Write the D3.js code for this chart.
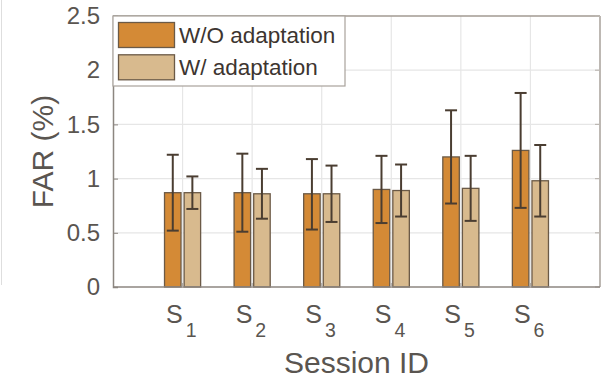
<!doctype html>
<html lang="en">
  <head>
    <meta charset="utf-8">
    <title>FAR per session</title>
    <style>
      body { margin: 0; background: #fff; }
      svg text { font-family: "Liberation Sans", Arial, sans-serif; }
    </style>
  </head>
  <body>
    <div id="main-chart"></div>

    <script src="https://d3js.org/d3.v7.min.js"></script>
    <script>
      // Data
      var sessions = ["1", "2", "3", "4", "5", "6"];
      var seriesNames = ["W/O adaptation", "W/ adaptation"];
      var withoutMean = [0.87, 0.87, 0.86, 0.90, 1.20, 1.26];
      var withoutLow  = [0.52, 0.51, 0.53, 0.59, 0.77, 0.73];
      var withoutHigh = [1.22, 1.23, 1.18, 1.21, 1.63, 1.79];
      var withMean = [0.87, 0.86, 0.86, 0.89, 0.91, 0.98];
      var withLow  = [0.72, 0.63, 0.60, 0.65, 0.61, 0.65];
      var withHigh = [1.02, 1.09, 1.12, 1.13, 1.21, 1.31];
      var yTicks = [0, 0.5, 1, 1.5, 2, 2.5];

      var colors = ["#d48a36", "#d8ba8e"];

      // Set params
      var margin = {top: 16, right: 8, bottom: 94, left: 113},
          width = 608 - margin.left - margin.right,
          height = 381 - margin.top - margin.bottom;

      var svg = d3.select("#main-chart")
        .append("svg")
        .attr("width", 608)
        .attr("height", 381);

      // faint frame line at far left
      svg.append("line")
        .attr("x1", 1.5).attr("x2", 1.5)
        .attr("y1", 0).attr("y2", 285)
        .attr("stroke", "#dedede").attr("stroke-width", 1);

      var g = svg.append("g")
        .attr("transform", "translate(" + margin.left + "," + margin.top + ")");

      // X scale: categories at 1..6 on a 0..7 range
      var x = d3.scaleLinear().domain([0, 7]).range([0, width]);
      var y = d3.scaleLinear().domain([0, 2.5]).range([height, 0]);

      // Grid
      g.selectAll(".hgrid").data(yTicks.slice(1, -1)).enter()
        .append("line")
        .attr("x1", 0).attr("x2", width)
        .attr("y1", function(d) { return y(d); })
        .attr("y2", function(d) { return y(d); })
        .attr("stroke", "#e6e6e6").attr("stroke-width", 1.2);

      g.selectAll(".vgrid").data(sessions).enter()
        .append("line")
        .attr("x1", function(d, i) { return x(i + 1); })
        .attr("x2", function(d, i) { return x(i + 1); })
        .attr("y1", 0).attr("y2", height)
        .attr("stroke", "#e6e6e6").attr("stroke-width", 1.2);

      // Bars
      var barW = 16.5, off = 9.8;
      var series = [
        {mean: withoutMean, low: withoutLow, high: withoutHigh, dx: -off, color: colors[0]},
        {mean: withMean, low: withLow, high: withHigh, dx: off, color: colors[1]}
      ];

      series.forEach(function(s) {
        g.selectAll(null).data(s.mean).enter()
          .append("rect")
          .attr("x", function(d, i) { return x(i + 1) + s.dx - barW / 2; })
          .attr("y", function(d) { return y(d); })
          .attr("width", barW)
          .attr("height", function(d) { return height - y(d); })
          .attr("fill", s.color)
          .attr("stroke", "#6b5a47")
          .attr("stroke-width", 1.3);
      });

      // Error bars
      var capW = 6;
      series.forEach(function(s) {
        var eb = g.selectAll(null).data(s.mean).enter().append("g")
          .attr("stroke", "#4a3d31").attr("stroke-width", 2);
        eb.append("line")
          .attr("x1", function(d, i) { return x(i + 1) + s.dx; })
          .attr("x2", function(d, i) { return x(i + 1) + s.dx; })
          .attr("y1", function(d, i) { return y(s.low[i]); })
          .attr("y2", function(d, i) { return y(s.high[i]); });
        eb.append("line")
          .attr("x1", function(d, i) { return x(i + 1) + s.dx - capW; })
          .attr("x2", function(d, i) { return x(i + 1) + s.dx + capW; })
          .attr("y1", function(d, i) { return y(s.high[i]); })
          .attr("y2", function(d, i) { return y(s.high[i]); });
        eb.append("line")
          .attr("x1", function(d, i) { return x(i + 1) + s.dx - capW; })
          .attr("x2", function(d, i) { return x(i + 1) + s.dx + capW; })
          .attr("y1", function(d, i) { return y(s.low[i]); })
          .attr("y2", function(d, i) { return y(s.low[i]); });
      });

      // Box: top and right
      g.append("line").attr("x1", 0).attr("x2", width).attr("y1", 0).attr("y2", 0)
        .attr("stroke", "#a29a92").attr("stroke-width", 1.5);
      g.append("line").attr("x1", width).attr("x2", width).attr("y1", 0).attr("y2", height)
        .attr("stroke", "#bdb8b3").attr("stroke-width", 2);

      // Right-side inner ticks
      g.selectAll(".rtick").data(yTicks).enter()
        .append("line")
        .attr("x1", width - 5).attr("x2", width)
        .attr("y1", function(d) { return y(d); })
        .attr("y2", function(d) { return y(d); })
        .attr("stroke", "#bdb8b3").attr("stroke-width", 1.2);

      // Y axis
      var yAxis = g.append("g")
        .call(d3.axisLeft(y).tickValues(yTicks).tickSize(-5).tickPadding(13)
          .tickFormat(function(d) { return d3.format("")(d); }));
      yAxis.select(".domain").attr("stroke", "#8c8680").attr("stroke-width", 1.5);
      yAxis.selectAll(".tick line").attr("stroke", "#8c8680");
      yAxis.selectAll("text")
        .attr("font-size", "24px")
        .attr("fill", "#5a5550")
        .attr("font-family", "Liberation Sans, Arial, sans-serif");

      // X axis line and small ticks
      g.append("line").attr("x1", 0).attr("x2", width).attr("y1", height).attr("y2", height)
        .attr("stroke", "#8c8680").attr("stroke-width", 1.5);
      g.selectAll(".xtick").data(sessions).enter()
        .append("line")
        .attr("x1", function(d, i) { return x(i + 1); })
        .attr("x2", function(d, i) { return x(i + 1); })
        .attr("y1", height).attr("y2", height - 4)
        .attr("stroke", "#b0aba6").attr("stroke-width", 1.2);

      // X tick labels with subscript
      var xl = g.selectAll(".xlab").data(sessions).enter()
        .append("text")
        .attr("x", function(d, i) { return x(i + 1) - 16.5; })
        .attr("y", height + 36)
        .attr("fill", "#5a5550")
        .attr("font-size", "25px");
      xl.append("tspan").text("S");
      xl.append("tspan")
        .attr("dx", 3).attr("dy", 14)
        .attr("font-size", "19.5px")
        .text(function(d) { return d; });

      // Axis titles
      svg.append("text")
        .attr("x", margin.left + width / 2)
        .attr("y", 373)
        .attr("text-anchor", "middle")
        .attr("font-size", "30px")
        .attr("fill", "#5a5550")
        .text("Session ID");

      svg.append("text")
        .attr("transform", "translate(53," + (margin.top + height / 2) + ") rotate(-90)")
        .attr("text-anchor", "middle")
        .attr("font-size", "30px")
        .attr("fill", "#5a5550")
        .text("FAR (%)");

      // Legend
      var legend = g.append("g");
      legend.append("rect")
        .attr("x", 0).attr("y", 0)
        .attr("width", 232).attr("height", 70)
        .attr("fill", "#fff")
        .attr("stroke", "#a8a29c").attr("stroke-width", 1.2);

      seriesNames.forEach(function(name, i) {
        legend.append("rect")
          .attr("x", 5.5).attr("y", 6.5 + i * 32.3)
          .attr("width", 56).attr("height", 25)
          .attr("fill", colors[i])
          .attr("stroke", "#6b5a47").attr("stroke-width", 1.3);
        legend.append("text")
          .attr("x", 66).attr("y", 27 + i * 32.3)
          .attr("font-size", "22.5px")
          .attr("fill", "#3d3530")
          .text(name);
      });
    </script>
  </body>
</html>
